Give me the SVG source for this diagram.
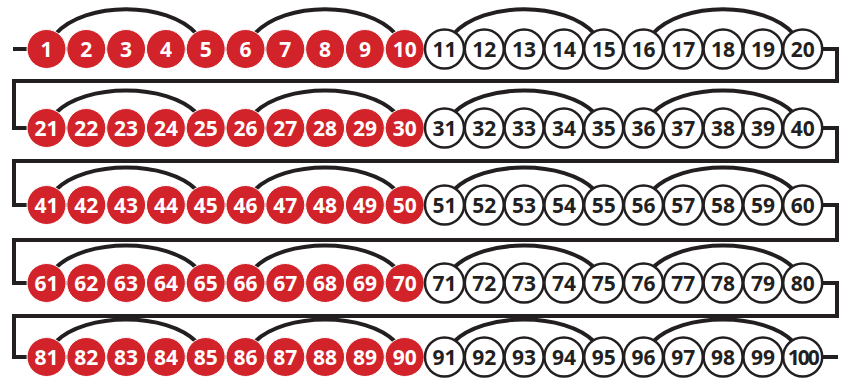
<svg xmlns="http://www.w3.org/2000/svg" width="862" height="380" viewBox="0 0 862 380">
<style>
.ln{fill:none;stroke:#231f20;stroke-width:4}
.arc{fill:none;stroke:#231f20;stroke-width:4}
text{font-family:"Open Sans","Liberation Sans",sans-serif;font-weight:700;font-size:21px;text-anchor:middle}
.r circle{fill:#d2232a;stroke:#fff;stroke-width:1}
.r text{fill:#fff}
.w circle{fill:#fff;stroke:#231f20;stroke-width:2.5}
.w text{fill:#231f20}
</style>
<rect width="862" height="380" fill="#fff"/>
<g id="connectors">
<path class="ln" d="M13,49 H837 V81 H14 V128 H837 V161 H14 V205 H837 V240 H14 V283 H837 V316 H14 V357 H838"/>
<path class="arc" d="M55.5,34 c30,-33 111.2,-33 141.2,0 M254.5,34 c30,-33 111.2,-33 141.2,0 M453.5,34 c30,-33 111.2,-33 141.2,0 M652.5,34 c30,-33 111.2,-33 141.2,0"/>
<path class="arc" d="M55.5,113 c30,-30 111.2,-30 141.2,0 M254.5,113 c30,-30 111.2,-30 141.2,0 M453.5,113 c30,-30 111.2,-30 141.2,0 M652.5,113 c30,-30 111.2,-30 141.2,0"/>
<path class="arc" d="M55.5,190 c30,-30 111.2,-30 141.2,0 M254.5,190 c30,-30 111.2,-30 141.2,0 M453.5,190 c30,-30 111.2,-30 141.2,0 M652.5,190 c30,-30 111.2,-30 141.2,0"/>
<path class="arc" d="M55.5,268 c30,-30 111.2,-30 141.2,0 M254.5,268 c30,-30 111.2,-30 141.2,0 M453.5,268 c30,-30 111.2,-30 141.2,0 M652.5,268 c30,-30 111.2,-30 141.2,0"/>
<path class="arc" d="M55.5,342 c30,-30 111.2,-30 141.2,0 M254.5,342 c30,-30 111.2,-30 141.2,0 M453.5,342 c30,-30 111.2,-30 141.2,0 M652.5,342 c30,-30 111.2,-30 141.2,0"/>
</g>
<g id="n1" class="r" transform="translate(46.5,49)"><circle r="19.5"/><text y="7.5">1</text></g>
<g id="n2" class="r" transform="translate(86.3,49)"><circle r="19.5"/><text y="7.5">2</text></g>
<g id="n3" class="r" transform="translate(126.1,49)"><circle r="19.5"/><text y="7.5">3</text></g>
<g id="n4" class="r" transform="translate(165.9,49)"><circle r="19.5"/><text y="7.5">4</text></g>
<g id="n5" class="r" transform="translate(205.7,49)"><circle r="19.5"/><text y="7.5">5</text></g>
<g id="n6" class="r" transform="translate(245.5,49)"><circle r="19.5"/><text y="7.5">6</text></g>
<g id="n7" class="r" transform="translate(285.3,49)"><circle r="19.5"/><text y="7.5">7</text></g>
<g id="n8" class="r" transform="translate(325.1,49)"><circle r="19.5"/><text y="7.5">8</text></g>
<g id="n9" class="r" transform="translate(364.9,49)"><circle r="19.5"/><text y="7.5">9</text></g>
<g id="n10" class="r" transform="translate(404.7,49)"><circle r="19.5"/><text y="7.5">10</text></g>
<g id="n11" class="w" transform="translate(444.5,49)"><circle r="19.5"/><text y="7.5">11</text></g>
<g id="n12" class="w" transform="translate(484.3,49)"><circle r="19.5"/><text y="7.5">12</text></g>
<g id="n13" class="w" transform="translate(524.1,49)"><circle r="19.5"/><text y="7.5">13</text></g>
<g id="n14" class="w" transform="translate(563.9,49)"><circle r="19.5"/><text y="7.5">14</text></g>
<g id="n15" class="w" transform="translate(603.7,49)"><circle r="19.5"/><text y="7.5">15</text></g>
<g id="n16" class="w" transform="translate(643.5,49)"><circle r="19.5"/><text y="7.5">16</text></g>
<g id="n17" class="w" transform="translate(683.3,49)"><circle r="19.5"/><text y="7.5">17</text></g>
<g id="n18" class="w" transform="translate(723.1,49)"><circle r="19.5"/><text y="7.5">18</text></g>
<g id="n19" class="w" transform="translate(762.9,49)"><circle r="19.5"/><text y="7.5">19</text></g>
<g id="n20" class="w" transform="translate(802.7,49)"><circle r="19.5"/><text y="7.5">20</text></g>
<g id="n21" class="r" transform="translate(46.5,128)"><circle r="19.5"/><text y="7.5">21</text></g>
<g id="n22" class="r" transform="translate(86.3,128)"><circle r="19.5"/><text y="7.5">22</text></g>
<g id="n23" class="r" transform="translate(126.1,128)"><circle r="19.5"/><text y="7.5">23</text></g>
<g id="n24" class="r" transform="translate(165.9,128)"><circle r="19.5"/><text y="7.5">24</text></g>
<g id="n25" class="r" transform="translate(205.7,128)"><circle r="19.5"/><text y="7.5">25</text></g>
<g id="n26" class="r" transform="translate(245.5,128)"><circle r="19.5"/><text y="7.5">26</text></g>
<g id="n27" class="r" transform="translate(285.3,128)"><circle r="19.5"/><text y="7.5">27</text></g>
<g id="n28" class="r" transform="translate(325.1,128)"><circle r="19.5"/><text y="7.5">28</text></g>
<g id="n29" class="r" transform="translate(364.9,128)"><circle r="19.5"/><text y="7.5">29</text></g>
<g id="n30" class="r" transform="translate(404.7,128)"><circle r="19.5"/><text y="7.5">30</text></g>
<g id="n31" class="w" transform="translate(444.5,128)"><circle r="19.5"/><text y="7.5">31</text></g>
<g id="n32" class="w" transform="translate(484.3,128)"><circle r="19.5"/><text y="7.5">32</text></g>
<g id="n33" class="w" transform="translate(524.1,128)"><circle r="19.5"/><text y="7.5">33</text></g>
<g id="n34" class="w" transform="translate(563.9,128)"><circle r="19.5"/><text y="7.5">34</text></g>
<g id="n35" class="w" transform="translate(603.7,128)"><circle r="19.5"/><text y="7.5">35</text></g>
<g id="n36" class="w" transform="translate(643.5,128)"><circle r="19.5"/><text y="7.5">36</text></g>
<g id="n37" class="w" transform="translate(683.3,128)"><circle r="19.5"/><text y="7.5">37</text></g>
<g id="n38" class="w" transform="translate(723.1,128)"><circle r="19.5"/><text y="7.5">38</text></g>
<g id="n39" class="w" transform="translate(762.9,128)"><circle r="19.5"/><text y="7.5">39</text></g>
<g id="n40" class="w" transform="translate(802.7,128)"><circle r="19.5"/><text y="7.5">40</text></g>
<g id="n41" class="r" transform="translate(46.5,205)"><circle r="19.5"/><text y="7.5">41</text></g>
<g id="n42" class="r" transform="translate(86.3,205)"><circle r="19.5"/><text y="7.5">42</text></g>
<g id="n43" class="r" transform="translate(126.1,205)"><circle r="19.5"/><text y="7.5">43</text></g>
<g id="n44" class="r" transform="translate(165.9,205)"><circle r="19.5"/><text y="7.5">44</text></g>
<g id="n45" class="r" transform="translate(205.7,205)"><circle r="19.5"/><text y="7.5">45</text></g>
<g id="n46" class="r" transform="translate(245.5,205)"><circle r="19.5"/><text y="7.5">46</text></g>
<g id="n47" class="r" transform="translate(285.3,205)"><circle r="19.5"/><text y="7.5">47</text></g>
<g id="n48" class="r" transform="translate(325.1,205)"><circle r="19.5"/><text y="7.5">48</text></g>
<g id="n49" class="r" transform="translate(364.9,205)"><circle r="19.5"/><text y="7.5">49</text></g>
<g id="n50" class="r" transform="translate(404.7,205)"><circle r="19.5"/><text y="7.5">50</text></g>
<g id="n51" class="w" transform="translate(444.5,205)"><circle r="19.5"/><text y="7.5">51</text></g>
<g id="n52" class="w" transform="translate(484.3,205)"><circle r="19.5"/><text y="7.5">52</text></g>
<g id="n53" class="w" transform="translate(524.1,205)"><circle r="19.5"/><text y="7.5">53</text></g>
<g id="n54" class="w" transform="translate(563.9,205)"><circle r="19.5"/><text y="7.5">54</text></g>
<g id="n55" class="w" transform="translate(603.7,205)"><circle r="19.5"/><text y="7.5">55</text></g>
<g id="n56" class="w" transform="translate(643.5,205)"><circle r="19.5"/><text y="7.5">56</text></g>
<g id="n57" class="w" transform="translate(683.3,205)"><circle r="19.5"/><text y="7.5">57</text></g>
<g id="n58" class="w" transform="translate(723.1,205)"><circle r="19.5"/><text y="7.5">58</text></g>
<g id="n59" class="w" transform="translate(762.9,205)"><circle r="19.5"/><text y="7.5">59</text></g>
<g id="n60" class="w" transform="translate(802.7,205)"><circle r="19.5"/><text y="7.5">60</text></g>
<g id="n61" class="r" transform="translate(46.5,283)"><circle r="19.5"/><text y="7.5">61</text></g>
<g id="n62" class="r" transform="translate(86.3,283)"><circle r="19.5"/><text y="7.5">62</text></g>
<g id="n63" class="r" transform="translate(126.1,283)"><circle r="19.5"/><text y="7.5">63</text></g>
<g id="n64" class="r" transform="translate(165.9,283)"><circle r="19.5"/><text y="7.5">64</text></g>
<g id="n65" class="r" transform="translate(205.7,283)"><circle r="19.5"/><text y="7.5">65</text></g>
<g id="n66" class="r" transform="translate(245.5,283)"><circle r="19.5"/><text y="7.5">66</text></g>
<g id="n67" class="r" transform="translate(285.3,283)"><circle r="19.5"/><text y="7.5">67</text></g>
<g id="n68" class="r" transform="translate(325.1,283)"><circle r="19.5"/><text y="7.5">68</text></g>
<g id="n69" class="r" transform="translate(364.9,283)"><circle r="19.5"/><text y="7.5">69</text></g>
<g id="n70" class="r" transform="translate(404.7,283)"><circle r="19.5"/><text y="7.5">70</text></g>
<g id="n71" class="w" transform="translate(444.5,283)"><circle r="19.5"/><text y="7.5">71</text></g>
<g id="n72" class="w" transform="translate(484.3,283)"><circle r="19.5"/><text y="7.5">72</text></g>
<g id="n73" class="w" transform="translate(524.1,283)"><circle r="19.5"/><text y="7.5">73</text></g>
<g id="n74" class="w" transform="translate(563.9,283)"><circle r="19.5"/><text y="7.5">74</text></g>
<g id="n75" class="w" transform="translate(603.7,283)"><circle r="19.5"/><text y="7.5">75</text></g>
<g id="n76" class="w" transform="translate(643.5,283)"><circle r="19.5"/><text y="7.5">76</text></g>
<g id="n77" class="w" transform="translate(683.3,283)"><circle r="19.5"/><text y="7.5">77</text></g>
<g id="n78" class="w" transform="translate(723.1,283)"><circle r="19.5"/><text y="7.5">78</text></g>
<g id="n79" class="w" transform="translate(762.9,283)"><circle r="19.5"/><text y="7.5">79</text></g>
<g id="n80" class="w" transform="translate(802.7,283)"><circle r="19.5"/><text y="7.5">80</text></g>
<g id="n81" class="r" transform="translate(46.5,357)"><circle r="19.5"/><text y="7.5">81</text></g>
<g id="n82" class="r" transform="translate(86.3,357)"><circle r="19.5"/><text y="7.5">82</text></g>
<g id="n83" class="r" transform="translate(126.1,357)"><circle r="19.5"/><text y="7.5">83</text></g>
<g id="n84" class="r" transform="translate(165.9,357)"><circle r="19.5"/><text y="7.5">84</text></g>
<g id="n85" class="r" transform="translate(205.7,357)"><circle r="19.5"/><text y="7.5">85</text></g>
<g id="n86" class="r" transform="translate(245.5,357)"><circle r="19.5"/><text y="7.5">86</text></g>
<g id="n87" class="r" transform="translate(285.3,357)"><circle r="19.5"/><text y="7.5">87</text></g>
<g id="n88" class="r" transform="translate(325.1,357)"><circle r="19.5"/><text y="7.5">88</text></g>
<g id="n89" class="r" transform="translate(364.9,357)"><circle r="19.5"/><text y="7.5">89</text></g>
<g id="n90" class="r" transform="translate(404.7,357)"><circle r="19.5"/><text y="7.5">90</text></g>
<g id="n91" class="w" transform="translate(444.5,357)"><circle r="19.5"/><text y="7.5">91</text></g>
<g id="n92" class="w" transform="translate(484.3,357)"><circle r="19.5"/><text y="7.5">92</text></g>
<g id="n93" class="w" transform="translate(524.1,357)"><circle r="19.5"/><text y="7.5">93</text></g>
<g id="n94" class="w" transform="translate(563.9,357)"><circle r="19.5"/><text y="7.5">94</text></g>
<g id="n95" class="w" transform="translate(603.7,357)"><circle r="19.5"/><text y="7.5">95</text></g>
<g id="n96" class="w" transform="translate(643.5,357)"><circle r="19.5"/><text y="7.5">96</text></g>
<g id="n97" class="w" transform="translate(683.3,357)"><circle r="19.5"/><text y="7.5">97</text></g>
<g id="n98" class="w" transform="translate(723.1,357)"><circle r="19.5"/><text y="7.5">98</text></g>
<g id="n99" class="w" transform="translate(762.9,357)"><circle r="19.5"/><text y="7.5">99</text></g>
<g id="n100" class="w" transform="translate(802.7,357)"><circle r="19.5"/><text y="7.5" letter-spacing="-2">100</text></g>
</svg>
